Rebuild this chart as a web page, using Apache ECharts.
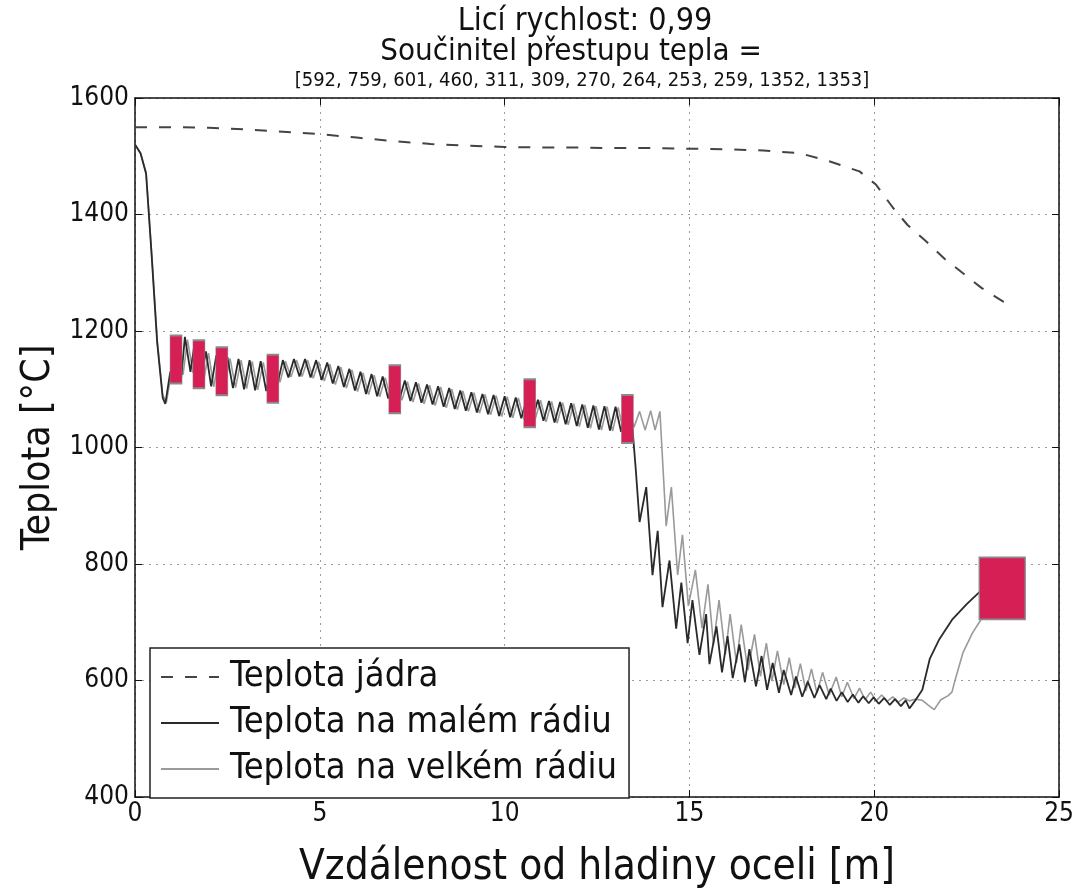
<!DOCTYPE html>
<html>
<head>
<meta charset="utf-8">
<title>Teplota</title>
<script src="https://cdn.jsdelivr.net/npm/echarts@6.0.0/dist/echarts.min.js"></script>
<style>
  html, body { margin: 0; padding: 0; background: #fff; }
  #chart { width: 1077px; height: 894px; }
</style>
</head>
<body>
<div id="chart"></div>
<script>
const FONT = '"Liberation Sans Narrow", "DejaVu Sans Condensed", "Noto Sans", sans-serif'

const xTicks = [0, 5, 10, 15, 20, 25]
const yTicks = [400, 600, 800, 1000, 1200, 1400, 1600]
const castSpeed = '0,99'
const coeffs = [592, 759, 601, 460, 311, 309, 270, 264, 253, 259, 1352, 1353]

// teplota jádra (čárkovaně)
const coreTemp = [
  [0, 1550], [1, 1550], [2, 1549], [3, 1546], [4, 1542], [5, 1538], [6, 1532], [7, 1526],
  [8, 1521], [9, 1518], [10, 1516], [11, 1515], [12, 1515], [13, 1514], [14, 1514], [15, 1513],
  [16, 1512], [17, 1510], [18, 1505], [18.8, 1491], [19.6, 1474], [20.05, 1451], [20.5, 1412],
  [20.9, 1382], [21.4, 1354], [21.9, 1324], [22.4, 1299], [22.9, 1274], [23.5, 1250], [23.7, 1245],
]

// teplota na malém rádiu
const smallRadius = [
  [0, 1520], [0.15, 1505], [0.3, 1470], [0.45, 1330], [0.6, 1180], [0.75, 1085], [0.82, 1075], [0.95, 1128],
  [1.1, 1150], [1.25, 1120], [1.35, 1190], [1.5, 1130], [1.62, 1182], [1.78, 1115], [1.92, 1165], [2.06, 1105],
  [2.2, 1158], [2.35, 1100], [2.5, 1155], [2.65, 1102], [2.8, 1152], [2.95, 1100], [3.1, 1150], [3.25, 1098],
  [3.4, 1148], [3.55, 1097], [3.7, 1146], [3.85, 1108], [4.0, 1150], [4.15, 1120], [4.3, 1152], [4.45, 1122],
  [4.6, 1152], [4.75, 1120], [4.9, 1150], [5.05, 1116], [5.2, 1146], [5.35, 1110], [5.5, 1140], [5.65, 1104],
  [5.8, 1135], [5.95, 1098], [6.1, 1130], [6.25, 1092], [6.4, 1126], [6.55, 1088], [6.7, 1122], [6.85, 1084],
  [7.0, 1118], [7.15, 1082], [7.3, 1115], [7.45, 1080], [7.6, 1112], [7.75, 1077], [7.9, 1108], [8.05, 1074],
  [8.2, 1105], [8.35, 1070], [8.5, 1102], [8.65, 1066], [8.8, 1098], [8.95, 1063], [9.1, 1095], [9.25, 1060],
  [9.4, 1092], [9.55, 1057], [9.7, 1090], [9.85, 1054], [10.0, 1088], [10.15, 1052], [10.3, 1086], [10.45, 1050],
  [10.6, 1084], [10.75, 1048], [10.9, 1082], [11.05, 1046], [11.2, 1080], [11.35, 1043], [11.5, 1078], [11.65, 1040],
  [11.8, 1076], [11.95, 1037], [12.1, 1074], [12.25, 1034], [12.4, 1072], [12.55, 1031], [12.7, 1071], [12.85, 1029],
  [13.0, 1070], [13.15, 1027], [13.3, 1068], [13.45, 1040], [13.55, 960], [13.65, 872], [13.83, 932], [14.0, 781],
  [14.14, 857], [14.27, 726], [14.46, 806], [14.64, 689], [14.78, 768], [14.95, 664], [15.08, 738], [15.27, 644],
  [15.45, 714], [15.54, 628], [15.73, 693], [15.88, 614], [16.03, 676], [16.17, 604], [16.35, 662], [16.5, 597],
  [16.62, 654], [16.8, 590], [16.95, 642], [17.1, 584], [17.25, 630], [17.42, 579], [17.55, 618], [17.75, 575],
  [17.88, 607], [18.05, 572], [18.2, 598], [18.38, 570], [18.52, 592], [18.7, 568], [18.82, 586], [18.98, 565],
  [19.12, 580], [19.28, 563], [19.42, 576], [19.57, 562], [19.7, 573], [19.85, 561], [19.98, 571], [20.12, 560],
  [20.27, 570], [20.42, 558], [20.56, 568], [20.72, 556], [20.85, 566], [20.95, 552], [21.1, 565], [21.3, 584],
  [21.5, 637], [21.76, 671], [22.1, 704], [22.5, 731], [22.9, 755], [23.4, 766],
]

// teplota na velkém rádiu
const bigRadius = [
  [0, 1520], [0.15, 1505], [0.3, 1472], [0.45, 1335], [0.6, 1185], [0.75, 1090], [0.85, 1078], [1.0, 1135],
  [1.17, 1160], [1.3, 1125], [1.42, 1185], [1.57, 1128], [1.7, 1178], [1.85, 1112], [1.99, 1162], [2.13, 1104],
  [2.27, 1156], [2.42, 1102], [2.57, 1153], [2.72, 1103], [2.87, 1150], [3.02, 1101], [3.17, 1148], [3.32, 1099],
  [3.47, 1146], [3.62, 1099], [3.77, 1144], [3.92, 1112], [4.07, 1148], [4.22, 1121], [4.37, 1150], [4.52, 1122],
  [4.67, 1150], [4.82, 1119], [4.97, 1147], [5.12, 1114], [5.27, 1143], [5.42, 1108], [5.57, 1138], [5.72, 1102],
  [5.87, 1133], [6.02, 1096], [6.17, 1128], [6.32, 1091], [6.47, 1124], [6.62, 1087], [6.77, 1120], [6.92, 1083],
  [7.07, 1116], [7.22, 1081], [7.37, 1113], [7.52, 1078], [7.67, 1110], [7.82, 1075], [7.97, 1107], [8.12, 1072],
  [8.27, 1104], [8.42, 1068], [8.57, 1100], [8.72, 1065], [8.87, 1097], [9.02, 1062], [9.17, 1094], [9.32, 1059],
  [9.47, 1091], [9.62, 1056], [9.77, 1089], [9.92, 1053], [10.07, 1087], [10.22, 1051], [10.37, 1085], [10.52, 1049],
  [10.67, 1083], [10.82, 1047], [10.97, 1081], [11.12, 1044], [11.27, 1079], [11.42, 1042], [11.57, 1077], [11.72, 1039],
  [11.87, 1075], [12.02, 1036], [12.17, 1073], [12.32, 1033], [12.47, 1071], [12.62, 1030], [12.77, 1070], [12.92, 1028],
  [13.07, 1069], [13.22, 1026], [13.37, 1066], [13.5, 1035], [13.65, 1062], [13.8, 1030], [13.95, 1063], [14.07, 1030],
  [14.2, 1062], [14.37, 865], [14.51, 932], [14.68, 781], [14.81, 850], [14.97, 728], [15.16, 790], [15.34, 690],
  [15.5, 765], [15.65, 662], [15.8, 738], [15.97, 645], [16.1, 714], [16.27, 630], [16.4, 696], [16.58, 618],
  [16.76, 679], [16.92, 607], [17.08, 664], [17.23, 599], [17.38, 651], [17.55, 593], [17.7, 639], [17.85, 587],
  [18.0, 629], [18.15, 582], [18.3, 620], [18.45, 578], [18.6, 614], [18.78, 575], [18.97, 606], [19.12, 572],
  [19.27, 597], [19.45, 569], [19.6, 587], [19.75, 567], [19.9, 580], [20.05, 565], [20.2, 575], [20.35, 564],
  [20.5, 572], [20.65, 563], [20.8, 570], [20.95, 565], [21.1, 568], [21.3, 566], [21.45, 558], [21.62, 550],
  [21.8, 567], [22.0, 574], [22.1, 580], [22.2, 604], [22.4, 648], [22.65, 681], [22.9, 706], [23.6, 726],
]

// růžové obdélníky (měřená místa)
const markers = [[1.11, 1151], [1.73, 1143], [2.35, 1131], [3.73, 1118], [7.03, 1100], [10.68, 1076], [13.32, 1049]]
const endMarker = [[23.46, 758]]

const chart = echarts.init(document.getElementById('chart'))

const gridLine = { show: true, lineStyle: { color: '#9a9a9a', type: [2, 5], width: 1 } }
const boxLine = { show: true, onZero: false, lineStyle: { color: '#111', width: 1.5 } }
const tickIn = { show: true, inside: true, length: 7, lineStyle: { color: '#111', width: 1 } }
const xRange = { min: xTicks[0], max: xTicks[xTicks.length - 1], interval: xTicks[1] - xTicks[0] }
const yRange = { min: yTicks[0], max: yTicks[yTicks.length - 1], interval: yTicks[1] - yTicks[0] }
const plain = v => String(v)

const option = {
  backgroundColor: '#fff',
  animation: false,
  textStyle: { fontFamily: FONT },
  title: [
    {
      text: 'Licí rychlost: ' + castSpeed,
      left: 580, top: 1, textAlign: 'center',
      textStyle: { fontFamily: FONT, fontSize: 32, fontWeight: 500, color: '#111' },
    },
    {
      text: 'Součinitel přestupu tepla =',
      left: 566, top: 31, textAlign: 'center',
      textStyle: { fontFamily: FONT, fontSize: 31, fontWeight: 500, color: '#111' },
    },
    {
      text: '[' + coeffs.join(', ') + ']',
      left: 577, top: 66, textAlign: 'center',
      textStyle: { fontFamily: FONT, fontSize: 20, fontWeight: 'normal', color: '#111' },
    },
  ],
  grid: { left: 135, right: 17, top: 98, bottom: 79, show: false },
  legend: {
    orient: 'vertical',
    left: 150, top: 648,
    padding: [9, 12, 9, 10],
    itemGap: 6,
    itemWidth: 58,
    itemHeight: 14,
    borderColor: '#222',
    borderWidth: 1.5,
    borderRadius: 0,
    backgroundColor: '#fff',
    itemStyle: { opacity: 0 },
    data: ['Teplota jádra', 'Teplota na malém rádiu', 'Teplota na velkém rádiu'],
    textStyle: { fontFamily: FONT, fontSize: 36, color: '#111', lineHeight: 40, padding: [0, 0, 0, 6] },
  },
  xAxis: [
    {
      type: 'value', ...xRange,
      name: 'Vzdálenost od hladiny oceli [m]',
      nameLocation: 'middle', nameGap: 50,
      nameTextStyle: { fontFamily: FONT, fontSize: 42, color: '#111' },
      axisLine: boxLine, axisTick: tickIn, splitLine: gridLine,
      axisLabel: { fontFamily: FONT, fontSize: 26, color: '#111', margin: 4, formatter: plain },
    },
    {
      type: 'value', ...xRange, position: 'top',
      axisLine: boxLine, axisTick: tickIn, splitLine: { show: false }, axisLabel: { show: false },
    },
  ],
  yAxis: [
    {
      type: 'value', ...yRange,
      name: 'Teplota [°C]',
      nameLocation: 'middle', nameGap: 76,
      nameTextStyle: { fontFamily: FONT, fontSize: 39, color: '#111' },
      axisLine: boxLine, axisTick: tickIn, splitLine: gridLine,
      axisLabel: { fontFamily: FONT, fontSize: 26, color: '#111', margin: 6, formatter: plain },
    },
    {
      type: 'value', ...yRange, position: 'right',
      axisLine: boxLine, axisTick: tickIn, splitLine: { show: false }, axisLabel: { show: false },
    },
  ],
  series: [
    {
      name: 'Teplota jádra', type: 'line', data: coreTemp, symbol: 'none',
      color: '#444', lineStyle: { color: '#444', width: 2, type: [12, 12] }, z: 3,
    },
    {
      name: 'Teplota na malém rádiu', type: 'line', data: smallRadius, symbol: 'none',
      color: '#2a2a2a', lineStyle: { color: '#2a2a2a', width: 1.8 }, z: 3,
    },
    {
      name: 'Teplota na velkém rádiu', type: 'line', data: bigRadius, symbol: 'none',
      color: '#9a9a9a', lineStyle: { color: '#9a9a9a', width: 1.6 }, z: 2,
    },
    {
      name: 'body', type: 'scatter', data: markers, symbol: 'rect', symbolSize: [12, 48],
      itemStyle: { color: '#d61f55', opacity: 1, borderColor: '#8a8a8a', borderWidth: 1 }, z: 5,
    },
    {
      name: 'konec', type: 'scatter', data: endMarker, symbol: 'rect', symbolSize: [46, 62],
      itemStyle: { color: '#d61f55', opacity: 1, borderColor: '#8a8a8a', borderWidth: 1.5 }, z: 5,
    },
  ],
}

chart.setOption(option)
</script>
</body>
</html>
